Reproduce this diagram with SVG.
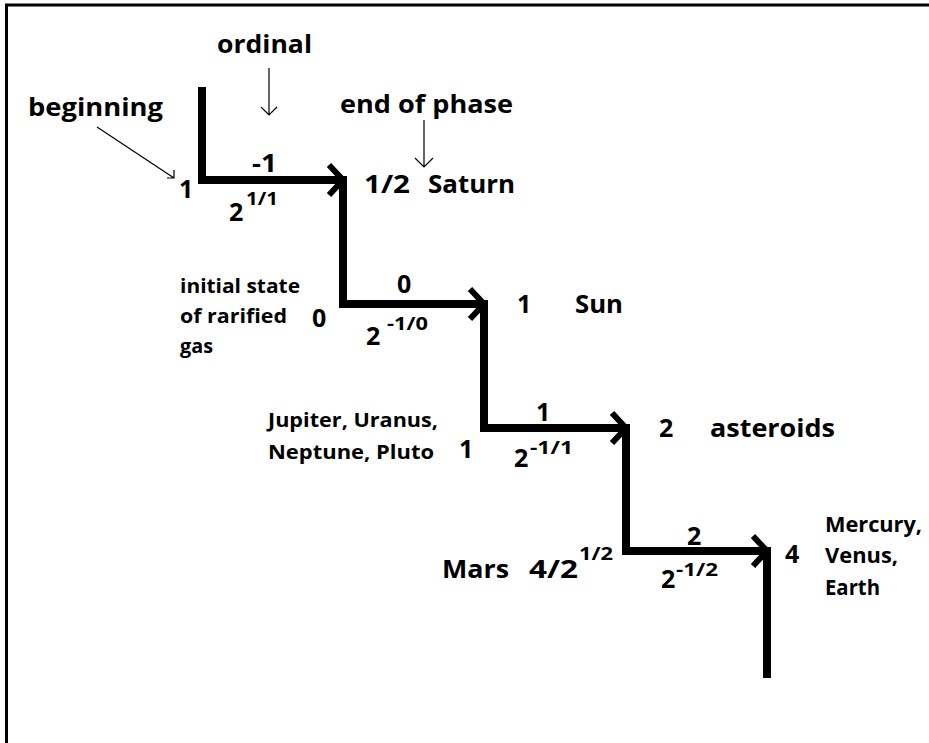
<svg xmlns="http://www.w3.org/2000/svg" width="929" height="743" viewBox="0 0 929 743">
<defs>
<style>
text{font-family:"Open Sans","Liberation Sans",sans-serif;font-weight:700;fill:#000}
.L{font-size:25px}
.S{font-size:20px}
.M{font-size:21px}
.P{font-size:17px}
.stair{fill:none;stroke:#000;stroke-width:8;stroke-linejoin:miter}
.head{fill:none;stroke:#000;stroke-width:6;stroke-linejoin:miter}
.thin{fill:none;stroke:#000;stroke-width:1.2}
.frame{fill:none;stroke:#000;stroke-width:3}
</style>
</defs>
<rect width="929" height="743" fill="#fff"/>
<path class="frame" d="M6.5 743 V5 H929"/>

<g id="connectors">
<path class="stair" d="M202 87 V180 H343 V304 H484 V428 H626 V551 H767 V678"/>
<polyline class="head" points="329,165 343,180 329,195"/>
<polyline class="head" points="470,289 484,304 470,319"/>
<polyline class="head" points="612,413 626,428 612,443"/>
<polyline class="head" points="753,536 767,551 753,566"/>
<path class="thin" d="M269 68 V115 M261 107 L269 115 L277 107"/>
<path class="thin" d="M424 120 V167 M415 158 L424 167 L433 158"/>
<path class="thin" stroke="#333" d="M97 127 L174 178 M174 170 L174 178 L167 178"/>
</g>

<g id="annotations">
<text class="L" x="217" y="53" textLength="95" lengthAdjust="spacingAndGlyphs">ordinal</text>
<text class="L" x="28" y="116" textLength="135" lengthAdjust="spacingAndGlyphs">beginning</text>
<text class="L" x="340" y="113" textLength="173" lengthAdjust="spacingAndGlyphs">end of phase</text>
</g>

<g id="step-minus1">
<text class="L" x="179" y="198">1</text>
<text class="L" x="252" y="172" textLength="25" lengthAdjust="spacingAndGlyphs">-1</text>
<text class="L" x="229" y="221">2</text>
<text class="P" x="246" y="205" textLength="32" lengthAdjust="spacingAndGlyphs">1/1</text>
<text class="L" x="364" y="193" textLength="46" lengthAdjust="spacingAndGlyphs">1/2</text>
<text class="L" x="428" y="193" textLength="87" lengthAdjust="spacingAndGlyphs">Saturn</text>
</g>

<g id="step-0">
<text class="S" x="180" y="293" textLength="120" lengthAdjust="spacingAndGlyphs">initial state</text>
<text class="S" x="180" y="323" textLength="107" lengthAdjust="spacingAndGlyphs">of rarified</text>
<text class="S" x="180" y="353" textLength="33" lengthAdjust="spacingAndGlyphs">gas</text>
<text class="L" x="312" y="327">0</text>
<text class="L" x="397" y="293">0</text>
<text class="L" x="366" y="345">2</text>
<text class="P" x="387" y="330" textLength="41" lengthAdjust="spacingAndGlyphs">-1/0</text>
<text class="L" x="517" y="313">1</text>
<text class="L" x="575" y="313" textLength="48" lengthAdjust="spacingAndGlyphs">Sun</text>
</g>

<g id="step-1">
<text class="S" x="268" y="427" textLength="170" lengthAdjust="spacingAndGlyphs">Jupiter, Uranus,</text>
<text class="S" x="268" y="459" textLength="166" lengthAdjust="spacingAndGlyphs">Neptune, Pluto</text>
<text class="L" x="459" y="458">1</text>
<text class="L" x="536" y="421">1</text>
<text class="L" x="514" y="467">2</text>
<text class="P" x="530" y="454" textLength="43" lengthAdjust="spacingAndGlyphs">-1/1</text>
<text class="L" x="659" y="437">2</text>
<text class="L" x="710" y="437" textLength="125" lengthAdjust="spacingAndGlyphs">asteroids</text>
</g>

<g id="step-2">
<text class="L" x="442" y="578" textLength="67" lengthAdjust="spacingAndGlyphs">Mars</text>
<text class="L" x="529" y="578" textLength="49" lengthAdjust="spacingAndGlyphs">4/2</text>
<text class="P" x="579" y="560" textLength="34" lengthAdjust="spacingAndGlyphs">1/2</text>
<text class="L" x="687" y="545">2</text>
<text class="L" x="661" y="588">2</text>
<text class="P" x="676" y="576" textLength="42" lengthAdjust="spacingAndGlyphs">-1/2</text>
<text class="L" x="785" y="563">4</text>
<text class="M" x="825" y="532" textLength="97" lengthAdjust="spacingAndGlyphs">Mercury,</text>
<text class="M" x="825" y="563" textLength="73" lengthAdjust="spacingAndGlyphs">Venus,</text>
<text class="M" x="825" y="595" textLength="55" lengthAdjust="spacingAndGlyphs">Earth</text>
</g>
</svg>
